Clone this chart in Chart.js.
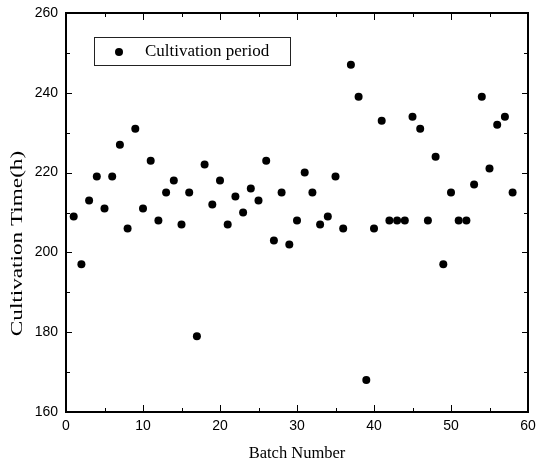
<!DOCTYPE html>
<html>
<head>
<meta charset="utf-8">
<script src="https://cdn.jsdelivr.net/npm/chart.js@4"></script>
<style>
  body { margin: 0; background: #fff; }
</style>
</head>
<body>
<canvas id="batchChart" width="537" height="467"></canvas>
<script>
// Datos
const batchNumbers = [1, 2, 3, 4, 5, 6, 7, 8, 9, 10, 11, 12, 13, 14, 15, 16, 17, 18, 19, 20,
    21, 22, 23, 24, 25, 26, 27, 28, 29, 30, 31, 32, 33, 34, 35, 36, 37, 38, 39, 40,
    41, 42, 43, 44, 45, 46, 47, 48, 49, 50, 51, 52, 53, 54, 55, 56, 57, 58];
const cultivationTimes = [209, 197, 213, 219, 211, 219, 227, 206, 231, 211, 223, 208, 215, 218, 207, 215, 179, 222, 212, 218,
    207, 214, 210, 216, 213, 223, 203, 215, 202, 208, 220, 215, 207, 209, 219, 206, 247, 239, 168, 206,
    233, 208, 208, 208, 234, 231, 208, 224, 197, 215, 208, 208, 217, 239, 221, 232, 234, 215];
const xRange = [0, 60];
const yRange = [160, 260];
const xMajorStep = 10, xMinorStep = 5;
const yMajorStep = 20, yMinorStep = 10;
const seriesLabel = 'Cultivation period';
const xTitle = 'Batch Number';
const yTitle = 'Cultivation Time(h)';

const points = batchNumbers.map((b, i) => ({ x: b, y: cultivationTimes[i] }));

// Marco, ticks hacia dentro, leyenda con recuadro y título del eje Y
const frameTicks = {
    id: 'frameTicks',
    afterDraw(chart) {
        const { ctx, chartArea: a, scales: { x, y } } = chart;
        ctx.save();
        ctx.strokeStyle = '#000';

        ctx.lineWidth = 1;
        ctx.beginPath();
        for (let v = x.min; v <= x.max; v += xMinorStep) {
            const px = Math.round(x.getPixelForValue(v)) + 0.5;
            const len = v % xMajorStep === 0 ? 7 : 4;
            ctx.moveTo(px, a.bottom); ctx.lineTo(px, a.bottom - len);
            ctx.moveTo(px, a.top); ctx.lineTo(px, a.top + len);
        }
        for (let v = y.min; v <= y.max; v += yMinorStep) {
            const py = Math.round(y.getPixelForValue(v)) + 0.5;
            const len = v % yMajorStep === 0 ? 6 : 4;
            ctx.moveTo(a.left, py); ctx.lineTo(a.left + len, py);
            ctx.moveTo(a.right, py); ctx.lineTo(a.right - len, py);
        }
        ctx.stroke();

        ctx.lineWidth = 2;
        ctx.strokeRect(a.left, a.top, a.right - a.left, a.bottom - a.top);

        // leyenda
        const lx = a.left + 28, ly = a.top + 24;
        ctx.lineWidth = 1;
        ctx.strokeStyle = '#222';
        ctx.strokeRect(lx + 0.5, ly + 0.5, 196, 28);
        ctx.fillStyle = '#000';
        ctx.beginPath();
        ctx.arc(lx + 25, ly + 15, 4, 0, Math.PI * 2);
        ctx.fill();
        ctx.font = '17px "Liberation Serif"';
        ctx.textAlign = 'left';
        ctx.textBaseline = 'middle';
        ctx.fillText(seriesLabel, lx + 51, ly + 15);

        // título eje Y (estirado como en el original)
        ctx.translate(17.5, 243.5);
        ctx.rotate(-Math.PI / 2);
        ctx.scale(1.45, 1);
        ctx.font = '16px "Liberation Serif"';
        ctx.textAlign = 'center';
        ctx.fillText(yTitle, 0, 0);
        ctx.restore();
    }
};

new Chart(document.getElementById('batchChart'), {
    type: 'scatter',
    data: {
        datasets: [{
            label: seriesLabel,
            data: points,
            backgroundColor: '#000',
            borderWidth: 0,
            pointRadius: 4,
            pointHoverRadius: 4
        }]
    },
    options: {
        responsive: false,
        animation: false,
        layout: { padding: { top: 13, right: 9, left: 0, bottom: 0 } },
        plugins: {
            legend: { display: false },
            tooltip: { enabled: false }
        },
        scales: {
            x: {
                type: 'linear',
                min: xRange[0],
                max: xRange[1],
                grid: { display: false, drawTicks: false },
                border: { display: false },
                ticks: {
                    stepSize: xMajorStep,
                    maxRotation: 0,
                    padding: 6,
                    color: '#000',
                    font: { family: '"Liberation Sans"', size: 14 }
                },
                title: {
                    display: true,
                    text: xTitle,
                    color: '#000',
                    font: { family: '"Liberation Serif"', size: 16.5 },
                    padding: { top: 0, bottom: 3 }
                },
                afterFit(scale) {
                    scale.height = 55;
                    scale.paddingLeft = 0;
                    scale.paddingRight = 0;
                }
            },
            y: {
                min: yRange[0],
                max: yRange[1],
                grid: { display: false, drawTicks: false },
                border: { display: false },
                ticks: {
                    stepSize: yMajorStep,
                    padding: 8,
                    color: '#000',
                    font: { family: '"Liberation Sans"', size: 14 }
                },
                afterFit(scale) {
                    scale.width = 66;
                    scale.paddingTop = 0;
                    scale.paddingBottom = 0;
                }
            }
        }
    },
    plugins: [frameTicks]
});
</script>
</body>
</html>
